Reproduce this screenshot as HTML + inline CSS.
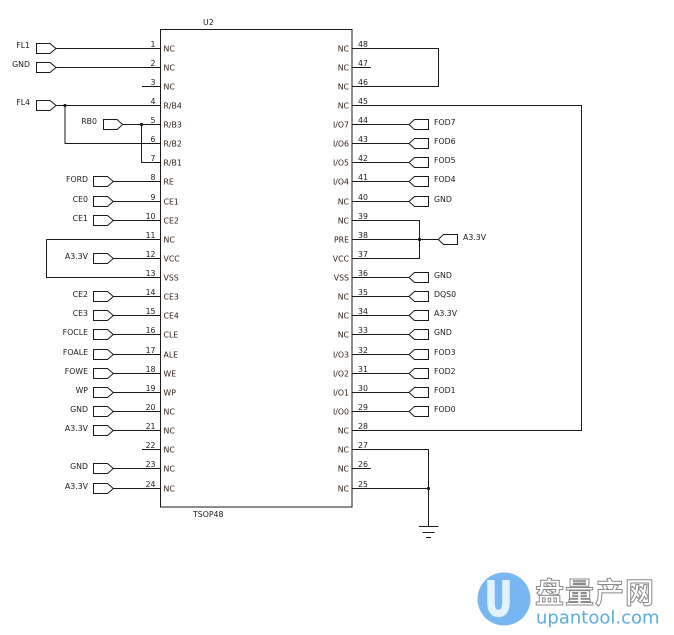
<!DOCTYPE html>
<html><head><meta charset="utf-8"><style>
html,body{margin:0;padding:0;background:#fff;}
svg{display:block;}
text{font-family:"DejaVu Sans","Liberation Sans",sans-serif;font-size:7.8px;fill:#1c1c1c;}
.e{text-anchor:end;}
.nm{fill:#2e1c12;}
.w{stroke:#1a1a1a;stroke-width:1;fill:none;}
.p{stroke:#1a1a1a;stroke-width:1;fill:#fff;}
</style></head><body>
<svg width="674" height="635" viewBox="0 0 674 635" xmlns="http://www.w3.org/2000/svg">
<!-- chip -->
<rect x="160.5" y="29.5" width="191.5" height="477.5" class="w"/>
<text x="203" y="25">U2</text>
<text x="193" y="517">TSOP48</text>

<!-- LEFT wires -->
<path class="w" d="M56 48.5H160M56 67.5H160M142 86.5H160M56 105.5H160M122.7 124.5H160M65 105.5V143.5H160M141.5 124.5V162.5H160
M113 181.5H160M113 201.5H160M113 220.5H160M46.5 239.5H160M46.5 239.5V277.5H160M113 258.5H160
M113 296.5H160M113 315.5H160M113 334.5H160M113 354.5H160M113 373.5H160M113 392.5H160M113 411.5H160M113 430.5H160
M142 449.5H160M113 468.5H160M113 488.5H160"/>
<circle cx="65" cy="105.5" r="1.6" fill="#1a1a1a"/>
<circle cx="141.5" cy="124.5" r="1.6" fill="#1a1a1a"/>

<!-- LEFT ports -->
<g class="p">
<polygon points="36.5,43.5 50,43.5 56,48.5 50,53.5 36.5,53.5"/>
<polygon points="36.5,62.5 50,62.5 56,67.5 50,72.5 36.5,72.5"/>
<polygon points="36.5,100.5 50,100.5 56,105.5 50,110.5 36.5,110.5"/>
<polygon points="103.5,119.5 117,119.5 122.7,124.5 117,129.5 103.5,129.5"/>
<polygon points="93.5,176.5 107.5,176.5 113.3,181.5 107.5,186.5 93.5,186.5"/>
<polygon points="93.5,196.5 107.5,196.5 113.3,201.5 107.5,206.5 93.5,206.5"/>
<polygon points="93.5,215.5 107.5,215.5 113.3,220.5 107.5,225.5 93.5,225.5"/>
<polygon points="93.5,253.5 107.5,253.5 113.3,258.5 107.5,263.5 93.5,263.5"/>
<polygon points="93.5,291.5 107.5,291.5 113.3,296.5 107.5,301.5 93.5,301.5"/>
<polygon points="93.5,310.5 107.5,310.5 113.3,315.5 107.5,320.5 93.5,320.5"/>
<polygon points="93.5,329.5 107.5,329.5 113.3,334.5 107.5,339.5 93.5,339.5"/>
<polygon points="93.5,349.5 107.5,349.5 113.3,354.5 107.5,359.5 93.5,359.5"/>
<polygon points="93.5,368.5 107.5,368.5 113.3,373.5 107.5,378.5 93.5,378.5"/>
<polygon points="93.5,387.5 107.5,387.5 113.3,392.5 107.5,397.5 93.5,397.5"/>
<polygon points="93.5,406.5 107.5,406.5 113.3,411.5 107.5,416.5 93.5,416.5"/>
<polygon points="93.5,425.5 107.5,425.5 113.3,430.5 107.5,435.5 93.5,435.5"/>
<polygon points="93.5,463.5 107.5,463.5 113.3,468.5 107.5,473.5 93.5,473.5"/>
<polygon points="93.5,483.5 107.5,483.5 113.3,488.5 107.5,493.5 93.5,493.5"/>
</g>

<!-- LEFT labels -->
<g class="e">
<text x="30" y="48">FL1</text>
<text x="30" y="67">GND</text>
<text x="30" y="105">FL4</text>
<text x="97" y="124">RB0</text>
<text x="88" y="182">FORD</text>
<text x="88" y="202">CE0</text>
<text x="88" y="221">CE1</text>
<text x="88" y="259">A3.3V</text>
<text x="88" y="297">CE2</text>
<text x="88" y="316">CE3</text>
<text x="88" y="335">FOCLE</text>
<text x="88" y="355">FOALE</text>
<text x="88" y="374">FOWE</text>
<text x="88" y="393">WP</text>
<text x="88" y="412">GND</text>
<text x="88" y="431">A3.3V</text>
<text x="88" y="469">GND</text>
<text x="88" y="489">A3.3V</text>
</g>

<!-- LEFT pin numbers -->
<g class="e">
<text x="155.5" y="47">1</text><text x="155.5" y="66">2</text><text x="155.5" y="85">3</text><text x="155.5" y="104">4</text>
<text x="155.5" y="123">5</text><text x="155.5" y="142">6</text><text x="155.5" y="161">7</text><text x="155.5" y="180">8</text>
<text x="155.5" y="200">9</text><text x="155.5" y="219">10</text><text x="155.5" y="238">11</text><text x="155.5" y="257">12</text>
<text x="155.5" y="276">13</text><text x="155.5" y="295">14</text><text x="155.5" y="314">15</text><text x="155.5" y="333">16</text>
<text x="155.5" y="353">17</text><text x="155.5" y="372">18</text><text x="155.5" y="391">19</text><text x="155.5" y="410">20</text>
<text x="155.5" y="429">21</text><text x="155.5" y="448">22</text><text x="155.5" y="467">23</text><text x="155.5" y="487">24</text>
</g>

<!-- LEFT pin names -->
<g>
<text class="nm" x="163.5" y="51.5">NC</text><text class="nm" x="163.5" y="70.5">NC</text><text class="nm" x="163.5" y="89.5">NC</text>
<text class="nm" x="163.5" y="108.5">R/B4</text><text class="nm" x="163.5" y="127.5">R/B3</text><text class="nm" x="163.5" y="146.5">R/B2</text>
<text class="nm" x="163.5" y="165.5">R/B1</text><text class="nm" x="163.5" y="184.5">RE</text><text class="nm" x="163.5" y="204.5">CE1</text>
<text class="nm" x="163.5" y="223.5">CE2</text><text class="nm" x="163.5" y="242.5">NC</text><text class="nm" x="163.5" y="261.5">VCC</text>
<text class="nm" x="163.5" y="280.5">VSS</text><text class="nm" x="163.5" y="299.5">CE3</text><text class="nm" x="163.5" y="318.5">CE4</text>
<text class="nm" x="163.5" y="337.5">CLE</text><text class="nm" x="163.5" y="357.5">ALE</text><text class="nm" x="163.5" y="376.5">WE</text>
<text class="nm" x="163.5" y="395.5">WP</text><text class="nm" x="163.5" y="414.5">NC</text><text class="nm" x="163.5" y="433.5">NC</text>
<text class="nm" x="163.5" y="452.5">NC</text><text class="nm" x="163.5" y="471.5">NC</text><text class="nm" x="163.5" y="491.5">NC</text>
</g>

<!-- RIGHT wires -->
<path class="w" d="M352 48.5H438.5V86.5H352M352 67.5H371M352 105.5H581.5V430.5H352
M352 124.5H409M352 143.5H409M352 162.5H409M352 181.5H409M352 201.5H409
M352 220.5H419.5V258.5H352M352 239.5H438.3
M352 277.5H409M352 296.5H409M352 315.5H409M352 334.5H409M352 354.5H409M352 373.5H409M352 392.5H409M352 411.5H409
M352 449.5H428.5V526M352 468.5H371M352 488.5H428.5
M419 526.5H438.5M422.5 532.5H434.5M426 537.5H431"/>
<circle cx="419.5" cy="239.5" r="1.6" fill="#1a1a1a"/>
<circle cx="428.5" cy="488.5" r="1.6" fill="#1a1a1a"/>

<!-- RIGHT ports -->
<g class="p">
<polygon points="428.5,119.5 414.5,119.5 409,124.5 414.5,129.5 428.5,129.5"/>
<polygon points="428.5,138.5 414.5,138.5 409,143.5 414.5,148.5 428.5,148.5"/>
<polygon points="428.5,157.5 414.5,157.5 409,162.5 414.5,167.5 428.5,167.5"/>
<polygon points="428.5,176.5 414.5,176.5 409,181.5 414.5,186.5 428.5,186.5"/>
<polygon points="428.5,196.5 414.5,196.5 409,201.5 414.5,206.5 428.5,206.5"/>
<polygon points="457.5,234.5 443.5,234.5 438.3,239.5 443.5,244.5 457.5,244.5"/>
<polygon points="428.5,272.5 414.5,272.5 409,277.5 414.5,282.5 428.5,282.5"/>
<polygon points="428.5,291.5 414.5,291.5 409,296.5 414.5,301.5 428.5,301.5"/>
<polygon points="428.5,310.5 414.5,310.5 409,315.5 414.5,320.5 428.5,320.5"/>
<polygon points="428.5,329.5 414.5,329.5 409,334.5 414.5,339.5 428.5,339.5"/>
<polygon points="428.5,349.5 414.5,349.5 409,354.5 414.5,359.5 428.5,359.5"/>
<polygon points="428.5,368.5 414.5,368.5 409,373.5 414.5,378.5 428.5,378.5"/>
<polygon points="428.5,387.5 414.5,387.5 409,392.5 414.5,397.5 428.5,397.5"/>
<polygon points="428.5,406.5 414.5,406.5 409,411.5 414.5,416.5 428.5,416.5"/>
</g>

<!-- RIGHT labels -->
<text x="434" y="125">FOD7</text>
<text x="434" y="144">FOD6</text>
<text x="434" y="163">FOD5</text>
<text x="434" y="182">FOD4</text>
<text x="434" y="202">GND</text>
<text x="463" y="240">A3.3V</text>
<text x="434" y="278">GND</text>
<text x="434" y="297">DQS0</text>
<text x="434" y="316">A3.3V</text>
<text x="434" y="335">GND</text>
<text x="434" y="355">FOD3</text>
<text x="434" y="374">FOD2</text>
<text x="434" y="393">FOD1</text>
<text x="434" y="412">FOD0</text>

<!-- RIGHT pin numbers -->
<g>
<text x="358" y="47">48</text><text x="358" y="66">47</text><text x="358" y="85">46</text><text x="358" y="104">45</text>
<text x="358" y="123">44</text><text x="358" y="142">43</text><text x="358" y="161">42</text><text x="358" y="180">41</text>
<text x="358" y="200">40</text><text x="358" y="219">39</text><text x="358" y="238">38</text><text x="358" y="257">37</text>
<text x="358" y="276">36</text><text x="358" y="295">35</text><text x="358" y="314">34</text><text x="358" y="333">33</text>
<text x="358" y="353">32</text><text x="358" y="372">31</text><text x="358" y="391">30</text><text x="358" y="410">29</text>
<text x="358" y="429">28</text><text x="358" y="448">27</text><text x="358" y="467">26</text><text x="358" y="487">25</text>
</g>

<!-- RIGHT pin names -->
<g class="e">
<text class="nm" x="349" y="51.5">NC</text><text class="nm" x="349" y="70.5">NC</text><text class="nm" x="349" y="89.5">NC</text>
<text class="nm" x="349" y="108.5">NC</text><text class="nm" x="349" y="127.5">I/O7</text><text class="nm" x="349" y="146.5">I/O6</text>
<text class="nm" x="349" y="165.5">I/O5</text><text class="nm" x="349" y="184.5">I/O4</text><text class="nm" x="349" y="204.5">NC</text>
<text class="nm" x="349" y="223.5">NC</text><text class="nm" x="349" y="242.5">PRE</text><text class="nm" x="349" y="261.5">VCC</text>
<text class="nm" x="349" y="280.5">VSS</text><text class="nm" x="349" y="299.5">NC</text><text class="nm" x="349" y="318.5">NC</text>
<text class="nm" x="349" y="337.5">NC</text><text class="nm" x="349" y="357.5">I/O3</text><text class="nm" x="349" y="376.5">I/O2</text>
<text class="nm" x="349" y="395.5">I/O1</text><text class="nm" x="349" y="414.5">I/O0</text><text class="nm" x="349" y="433.5">NC</text>
<text class="nm" x="349" y="452.5">NC</text><text class="nm" x="349" y="471.5">NC</text><text class="nm" x="349" y="491.5">NC</text>
</g>

<!-- watermark -->
<circle cx="504" cy="599" r="26.5" fill="#78b7f1"/>
<path d="M491 580V602Q491 613.5 498.5 613.5Q506 613.5 506 602V580" stroke="#e4f1ff" stroke-width="7.5" fill="none"/>
<text x="535" y="603" style="font-family:'Noto Sans CJK SC','WenQuanYi Zen Hei',sans-serif;font-size:29px;font-weight:bold;fill:#fff;stroke:#8a8a8a;stroke-width:1;letter-spacing:1px">盘量产网</text>
<text x="536" y="623.5" style="font-family:'DejaVu Sans',sans-serif;font-size:18px;fill:#5aaedb">upantool.com</text>
</svg>
</body></html>
